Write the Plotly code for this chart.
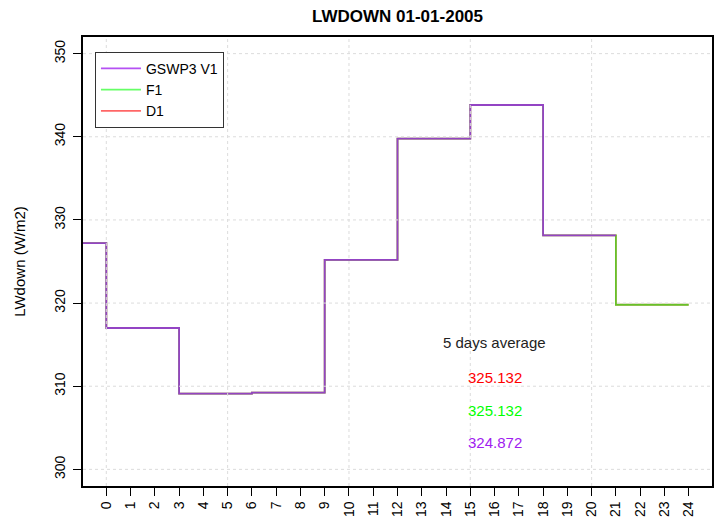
import plotly.graph_objects as go

# ---- data ----
hours_full = [-3, 0, 3, 6, 9, 12, 15, 18, 21, 24]
d1_values = [327.2, 317.0, 309.1, 309.22, 325.2, 339.77, 343.82, 328.15, 319.8, 319.8]
f1_values = [327.2, 317.0, 309.1, 309.22, 325.2, 339.77, 343.82, 328.15, 319.8, 319.8]
hours_gswp = [-3, 0, 3, 6, 9, 12, 15, 18, 21]
gswp_values = [327.2, 317.0, 309.1, 309.22, 325.2, 339.77, 343.82, 328.15, 328.15]

x_ticks = list(range(0, 25))
y_ticks = [300, 310, 320, 330, 340, 350]
x_grid = [0, 5, 10, 15, 20]

avg_label = "5 days average"
avg_texts = ["325.132", "325.132", "324.872"]
avg_colors = ["#ff0000", "#00ff00", "#a020f0"]
avg_x = 16
avg_y = [315.2, 311.0, 307.1, 303.2]

series_names = ["GSWP3 V1", "F1", "D1"]
line_colors = ["rgba(160,32,240,0.78)", "rgba(0,255,0,0.6)", "rgba(255,0,0,0.6)"]

FONT = "Liberation Sans, Arial, Helvetica, sans-serif"

fig = go.Figure()
# draw order: red, green, purple (legend order purple, green, red)
fig.add_trace(go.Scatter(x=hours_full, y=d1_values, mode="lines", line_shape="hv",
                         name=series_names[2], line=dict(color=line_colors[2], width=1.8),
                         legendrank=3))
fig.add_trace(go.Scatter(x=hours_full, y=f1_values, mode="lines", line_shape="hv",
                         name=series_names[1], line=dict(color=line_colors[1], width=1.8),
                         legendrank=2))
fig.add_trace(go.Scatter(x=hours_gswp, y=gswp_values, mode="lines", line_shape="hv",
                         name=series_names[0], line=dict(color=line_colors[0], width=1.8),
                         legendrank=1))

shapes = []
for gx in x_grid:
    shapes.append(dict(type="line", xref="x", yref="paper", x0=gx, x1=gx, y0=0, y1=1,
                       line=dict(color="#dcdcdc", width=1, dash="dot"), layer="above"))
for gy in y_ticks:
    shapes.append(dict(type="line", xref="paper", yref="y", x0=0, x1=1, y0=gy, y1=gy,
                       line=dict(color="#dcdcdc", width=1, dash="dot"), layer="above"))

annotations = [dict(x=avg_x, y=avg_y[0], text=avg_label, showarrow=False,
                    font=dict(family=FONT, size=15, color="#222222"))]
for t, c, yy in zip(avg_texts, avg_colors, avg_y[1:]):
    annotations.append(dict(x=avg_x, y=yy, text=t, showarrow=False,
                            font=dict(family=FONT, size=15, color=c)))

fig.update_layout(
    width=719, height=520,
    margin=dict(l=83, r=7, t=37, b=34),
    paper_bgcolor="white", plot_bgcolor="white",
    font=dict(family=FONT, size=14, color="black"),
    title=dict(text="<b>LWDOWN 01-01-2005</b>", x=397.5 / 719, xanchor="center",
               y=1 - 16 / 520, yanchor="middle", font=dict(family=FONT, size=17, color="black")),
    showlegend=True,
    legend=dict(x=0.019, y=0.967, xanchor="left", yanchor="top",
                bordercolor="#333333", borderwidth=1, bgcolor="white",
                font=dict(family=FONT, size=14, color="black"),
                traceorder="normal", itemwidth=40, tracegroupgap=0),
    shapes=shapes,
    annotations=annotations,
)
fig.update_xaxes(range=[-0.96, 24.96], tickvals=x_ticks, ticktext=[str(v) for v in x_ticks],
                 tickangle=-90, ticks="outside", ticklen=8, tickcolor="black",
                 showline=True, mirror=True, linecolor="black", linewidth=1.5,
                 showgrid=False, zeroline=False, tickfont=dict(size=14), automargin=False)
fig.update_yaxes(range=[298, 352], tickvals=y_ticks, tickangle=-90,
                 ticks="outside", ticklen=8, tickcolor="black", ticklabelstandoff=3,
                 showline=True, mirror=True, linecolor="black", linewidth=1.5,
                 showgrid=False, zeroline=False, tickfont=dict(size=14), automargin=False,
                 title=dict(text="LWdown (W/m2)", font=dict(size=15), standoff=22))

fig.write_html("out.html")
